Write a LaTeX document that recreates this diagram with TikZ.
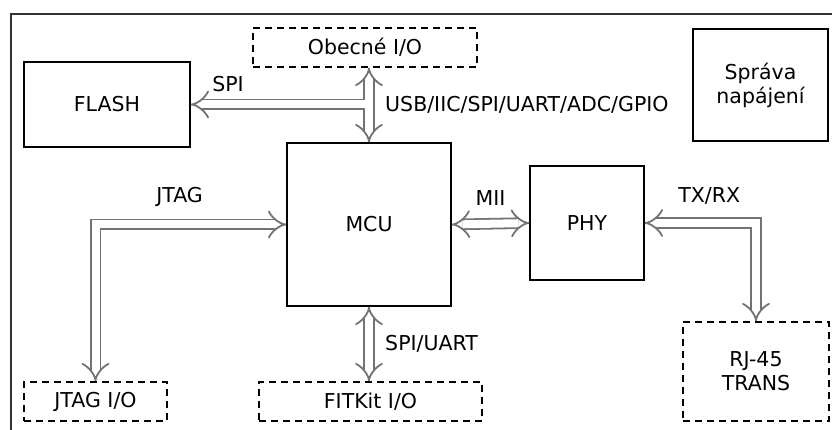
\documentclass[tikz,border=0pt]{standalone}
\usepackage{fontspec}
\setmainfont{DejaVu Sans}
\usetikzlibrary{arrows.meta}
\tikzset{
  blok/.style={draw,line width=1.1pt,inner sep=0pt,align=center},
  iobox/.style={blok,dash pattern=on 7pt off 5pt},
  bus/.style={draw=black!55,line width=1.8pt,double=white,double distance=8pt,
    >={Implies[length=8pt,width=22pt]}},
}
\begin{document}
\begin{tikzpicture}[x=1pt,y=-1pt,font=\fontsize{20.5}{24}\selectfont]
                \useasboundingbox (0,0) rectangle (832,430);
                \draw [line width=1.6pt,black!80] (11,430) |- (832,14);
                % bloky
                \node (obecne) [iobox,minimum width=224pt,minimum height=39pt] at (365,47.5) {Obecné I/O};
                \node (flash) [blok,minimum width=166pt,minimum height=85pt] at (107,104.5) {FLASH};
                \node (sprava) [blok,minimum width=135pt,minimum height=112pt] at (760.5,85) {Správa\\napájení};
                \node (mcu) [blok,minimum width=164pt,minimum height=163pt] at (369,224.5) {MCU};
                \node (phy) [blok,minimum width=114pt,minimum height=114pt] at (587,223) {PHY};
                \node (jtagio) [iobox,minimum width=143pt,minimum height=39pt] at (95.5,401.5) {JTAG I/O};
                \node (fitkit) [iobox,minimum width=223pt,minimum height=39pt] at (370.5,401.5) {FITKit I/O};
                \node (rj) [iobox,minimum width=146pt,minimum height=99pt] at (756,371.5) {RJ-45\\TRANS};
                % sbernice
                \coordinate (jn) at (mcu.north |- flash.east);
                \draw [bus,->] (jn) -- (flash.east) node [pos=0.79,above=8pt] {SPI};
                \draw [bus,<->] (obecne.south -| mcu.north) -- (mcu.north) node [midway,right=12pt] {USB/IIC/SPI/UART/ADC/GPIO};
                \draw [white,line width=8pt] (jn) -- ++(-8.5,0);
                \draw [bus,<->] (mcu.west) -| (jtagio.north) node [pos=0.28,above=14pt] {JTAG};
                \draw [bus,<->] (mcu.east) -- (phy.west) node [midway,above=14pt] {MII};
                \draw [bus,<->] (phy.east) -| (rj.north) node [pos=0.29,above=14pt] {TX/RX};
                \draw [bus,<->] (mcu.south) -- (fitkit.north -| mcu.south) node [midway,right=12pt] {SPI/UART};
            \end{tikzpicture}
\end{document}
